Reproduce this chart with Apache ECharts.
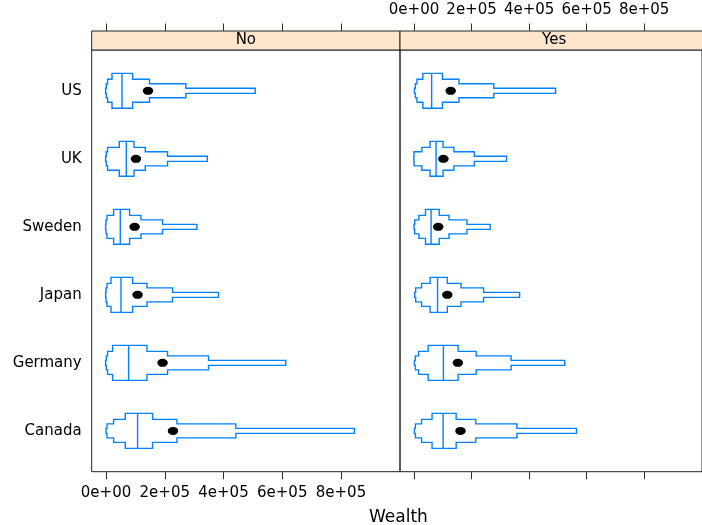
<!DOCTYPE html>
<html><head><meta charset="utf-8">
<script src="https://cdn.jsdelivr.net/npm/echarts@6/dist/echarts.min.js"></script>
<style>html,body{margin:0;padding:0;background:#fff}#c{width:702px;height:525px}</style>
</head><body><div id="c"></div>
<script>
// categories bottom (y=1) to top (y=6)
const countries = ['Canada', 'Germany', 'Japan', 'Sweden', 'UK', 'US'];
const panels = ['No', 'Yes'];
const tickValues = [0, 200000, 400000, 600000, 800000];
const tickLabels = ['0e+00', '2e+05', '4e+05', '6e+05', '8e+05'];
const axisTitle = 'Wealth';

// letter values: [lo4, lo3, lo2, lo1, median, hi1, hi2, hi3, hi4]
const lvNo = [
  [0, 3400, 25900, 65600, 107500, 158500, 241500, 442000, 845600],   // Canada
  [-1400, 1000, 5400, 22400, 76900, 139500, 209500, 349000, 612000], // Germany
  [-1400, 0, 3400, 17000, 51000, 90500, 139500, 226500, 383000],     // Japan
  [-1400, 0, 3400, 25900, 48600, 80300, 119000, 192500, 309500],     // Sweden
  [-1400, 1000, 5400, 45200, 69000, 95200, 133700, 209500, 345000],  // UK
  [-1400, 1000, 5400, 20400, 54400, 90500, 148000, 272000, 508000]   // US
];
const lvYes = [
  [1400, 4800, 26200, 62700, 101200, 146500, 214700, 357800, 564600], // Canada
  [1400, 4800, 16000, 49100, 102200, 153300, 216000, 337300, 523700], // Germany
  [2400, 5800, 26200, 55900, 81800, 115800, 163500, 241900, 367000],  // Japan
  [0, 2400, 17000, 39900, 59300, 87600, 121600, 184000, 264700],      // Sweden
  [-500, 0, 27300, 55600, 76700, 101000, 138600, 209400, 321600],     // UK
  [1400, 4800, 10200, 30700, 61300, 98800, 156200, 277300, 492000]    // US
];
const meanNo = [228000, 192500, 107500, 97300, 102000, 143000];
const meanYes = [161500, 152300, 115800, 84200, 102200, 127400];

// ---- layout / style ----
const FONT = 'DejaVu Sans';
const X_MIN = -48700, X_MAX = 1000900;
const GT = 50, GH = 421.7, GW = 308.3, GL0 = 91.7;
const STRIP_H = 19;
const BLUE = '#0080ff';
const LW = 1.4;
const HALF = [0.257, 0.169, 0.103, 0.037];

function renderLV(params, api) {
  const y = api.value(0);
  const v = [];
  for (let i = 1; i <= 9; i++) v.push(api.value(i));
  const unit = api.size([0, 1])[1];
  const cy = api.coord([0, y])[1];
  const lo = [], hi = [], hh = [];
  for (let k = 0; k < 4; k++) {
    lo.push(api.coord([v[3 - k], y])[0]);
    hi.push(api.coord([v[5 + k], y])[0]);
    hh.push(HALF[k] * unit);
  }
  const pts = [];
  for (let k = 3; k >= 0; k--) {
    pts.push([lo[k], k === 3 ? cy + hh[3] : cy - hh[k + 1]]);
    pts.push([lo[k], cy - hh[k]]);
  }
  for (let k = 0; k <= 3; k++) {
    pts.push([hi[k], cy - hh[k]]);
    pts.push([hi[k], k === 3 ? cy + hh[3] : cy - hh[k + 1]]);
  }
  for (let k = 2; k >= 0; k--) {
    pts.push([hi[k], cy + hh[k + 1]]);
    pts.push([hi[k], cy + hh[k]]);
  }
  for (let k = 0; k <= 2; k++) {
    pts.push([lo[k], cy + hh[k]]);
    pts.push([lo[k], cy + hh[k + 1]]);
  }
  const xm = api.coord([v[4], y])[0];
  return {type: 'group', children: [
    {type: 'polygon', shape: {points: pts}, style: {fill: '#fff', stroke: BLUE, lineWidth: LW}},
    {type: 'line', shape: {x1: xm, y1: cy - hh[0], x2: xm, y2: cy + hh[0]},
      style: {stroke: BLUE, lineWidth: LW}}
  ]};
}

function lvData(arr) { return arr.map((r, i) => [i + 1].concat(r)); }
function meanData(arr) { return arr.map((m, i) => [m, i + 1]); }

function xAxis(grid, pos, showLabels) {
  return {
    type: 'value', gridIndex: grid, position: pos, offset: pos === 'top' ? STRIP_H : 0,
    min: X_MIN, max: X_MAX,
    axisLine: {show: false},
    splitLine: {show: false},
    axisTick: {show: true, customValues: tickValues, length: 7.5, lineStyle: {color: '#333', width: 1}},
    axisLabel: {show: showLabels, customValues: tickValues, margin: pos === 'top' ? 13 : 14,
      formatter: v => tickLabels[tickValues.indexOf(v)] || '',
      fontFamily: FONT, fontSize: 15, color: '#000'}
  };
}
function yAxis(grid, showLabels) {
  return {
    type: 'value', gridIndex: grid, min: 0.4, max: 6.6,
    axisLine: {show: false}, axisTick: {show: false}, splitLine: {show: false},
    axisLabel: {show: showLabels, customValues: [1, 2, 3, 4, 5, 6], margin: 10,
      formatter: v => countries[Math.round(v) - 1] || '',
      fontFamily: FONT, fontSize: 15, color: '#000'}
  };
}

const grids = [0, 1].map(i => ({left: GL0 + i * GW, top: GT, width: GW, height: GH,
  show: true, borderColor: '#222', borderWidth: 1, backgroundColor: 'transparent'}));

const strips = [];
panels.forEach((p, i) => {
  strips.push({type: 'rect', shape: {x: GL0 + i * GW, y: GT - STRIP_H, width: GW, height: STRIP_H},
    style: {fill: '#ffe5cc', stroke: '#222', lineWidth: 1}, z: 5});
  strips.push({type: 'text', x: GL0 + i * GW + GW / 2, y: GT - STRIP_H / 2,
    style: {text: p, font: '15px "' + FONT + '"', fill: '#000', textAlign: 'center', textVerticalAlign: 'middle'}, z: 6});
});
strips.push({type: 'text', x: GL0 + GW * 0.995, y: 518,
  style: {text: axisTitle, font: '17px "' + FONT + '"', fill: '#000', textAlign: 'center', textVerticalAlign: 'middle'}});

const chart = echarts.init(document.getElementById('c'));
chart.setOption({
  animation: false,
  backgroundColor: '#fff',
  grid: grids,
  xAxis: [xAxis(0, 'bottom', true), xAxis(1, 'bottom', false), xAxis(0, 'top', false), xAxis(1, 'top', true)],
  yAxis: [yAxis(0, true), yAxis(1, false)],
  graphic: strips,
  series: [
    {type: 'custom', xAxisIndex: 0, yAxisIndex: 0, renderItem: renderLV, data: lvData(lvNo),
      encode: {x: [1, 2, 3, 4, 5, 6, 7, 8, 9], y: 0}, clip: true, z: 2},
    {type: 'custom', xAxisIndex: 1, yAxisIndex: 1, renderItem: renderLV, data: lvData(lvYes),
      encode: {x: [1, 2, 3, 4, 5, 6, 7, 8, 9], y: 0}, clip: true, z: 2},
    {type: 'scatter', xAxisIndex: 0, yAxisIndex: 0, data: meanData(meanNo), symbol: 'circle',
      symbolSize: [10.5, 8], itemStyle: {color: '#000', opacity: 1}, z: 3},
    {type: 'scatter', xAxisIndex: 1, yAxisIndex: 1, data: meanData(meanYes), symbol: 'circle',
      symbolSize: [10.5, 8], itemStyle: {color: '#000', opacity: 1}, z: 3}
  ]
});
</script></body></html>
